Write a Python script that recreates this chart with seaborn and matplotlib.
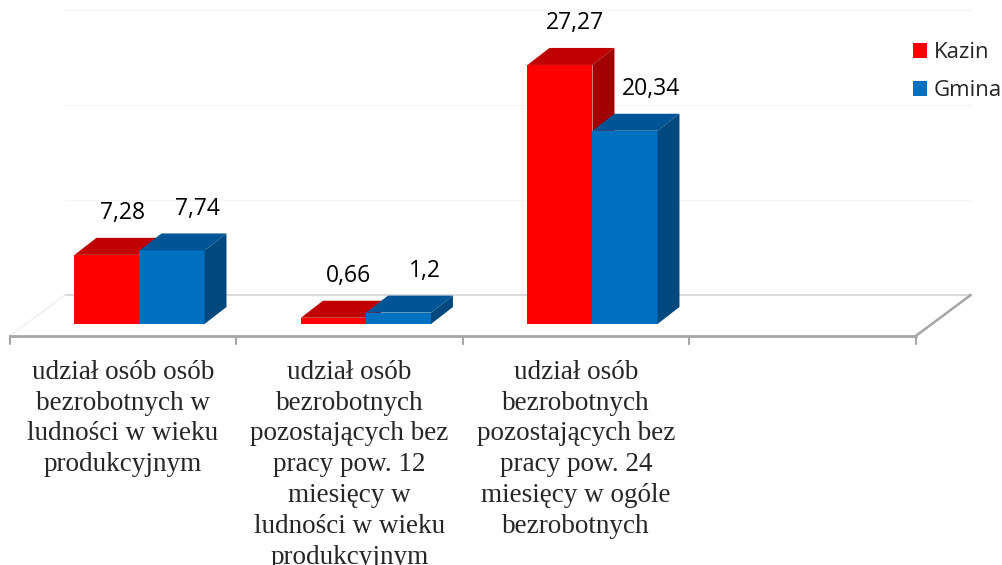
import pandas as pd
import seaborn as sns
import matplotlib.pyplot as plt
from matplotlib.patches import Polygon

# ── data ──
CATEGORIES = [
    "udział osób osób\nbezrobotnych w\nludności w wieku\nprodukcyjnym",
    "udział osób\nbezrobotnych\npozostających bez\npracy pow. 12\nmiesięcy w\nludności w wieku\nprodukcyjnym",
    "udział osób\nbezrobotnych\npozostających bez\npracy pow. 24\nmiesięcy w ogóle\nbezrobotnych",
]
SERIES = ["Kazin", "Gmina"]
KAZIN = [7.28, 0.66, 27.27]
GMINA = [7.74, 1.2, 20.34]

# ── style ──
FRONT = ["#FF0000", "#0070C0"]
TOP   = ["#C00000", "#005596"]
SIDE  = ["#A00000", "#00497E"]

BAR_DX, BAR_DY     = 0.097, 1.79     # bar depth (data units)
FLOOR_DX, FLOOR_DY = 0.243, 4.32     # floor depth
OFF_X = -(FLOOR_DX - BAR_DX) / 2     # floor front relative to bar front
OFF_Y = -(FLOOR_DY - BAR_DY) / 2

df = pd.DataFrame({
    "kategoria": CATEGORIES * 2,
    "seria":     [SERIES[0]] * 3 + [SERIES[1]] * 3,
    "wartosc":   KAZIN + GMINA,
})

sns.set_style("white")
plt.rcParams["font.family"] = ["Open Sans", "DejaVu Sans"]

fig = plt.figure(figsize=(10.03, 5.65), dpi=100)
ax = fig.add_axes([0.02617, 0.35929, 0.90329, 0.63894])

sns.barplot(data=df, x="kategoria", y="wartosc", hue="seria",
            hue_order=SERIES, palette=FRONT, saturation=1,
            width=0.574, gap=0, linewidth=0, ax=ax)

# ── 3D faces on top of seaborn bars ──
for k, cont in enumerate(ax.containers):
    z = 3 + k
    for bar, v in zip(cont, [KAZIN, GMINA][k]):
        x0, w, h = bar.get_x(), bar.get_width(), bar.get_height()
        bar.set_zorder(z)
        ax.add_patch(Polygon([(x0, h), (x0 + w, h), (x0 + w + BAR_DX, h + BAR_DY),
                              (x0 + BAR_DX, h + BAR_DY)], closed=True,
                             fc=TOP[k], ec="none", zorder=z))
        ax.add_patch(Polygon([(x0 + w, 0), (x0 + w + BAR_DX, BAR_DY),
                              (x0 + w + BAR_DX, h + BAR_DY), (x0 + w, h)], closed=True,
                             fc=SIDE[k], ec="none", zorder=z))
        shift = 0.018 if k == 0 else 0.066
        ax.text(x0 + w / 2 + BAR_DX / 2 + shift, h + BAR_DY + 2.6,
                f"{v:g}".replace(".", ","), ha="center", va="center",
                fontsize=16.5, color="black", zorder=10)

# ── floor, walls, ticks ──
xs = ax.get_xticks()
n_slots = len(CATEGORIES) + 1
fx0, fx1 = -0.5 + OFF_X, n_slots - 0.5 + OFF_X
bx0, bx1 = fx0 + FLOOR_DX, fx1 + FLOOR_DX
fy, by = OFF_Y, OFF_Y + FLOOR_DY

for g in (10, 20, 30):
    ax.plot([bx0, bx1], [by + g, by + g], color="#F6F6F6", lw=1, zorder=1, clip_on=False)
ax.plot([bx0, bx1], [by, by], color="#D4D4D4", lw=1.2, zorder=1, clip_on=False)
ax.plot([fx0, bx0], [fy, by], color="#EEEEEE", lw=1, zorder=1, clip_on=False)
ax.plot([fx1, bx1], [fy, by], color="#A6A6A6", lw=1.8, zorder=1, clip_on=False)
ax.plot([fx0, fx1], [fy, fy], color="#A6A6A6", lw=2, zorder=1, clip_on=False)
for i in range(n_slots + 1):
    tx = -0.5 + i + OFF_X
    ax.plot([tx, tx], [fy, fy - 0.8], color="#A6A6A6", lw=1.5, zorder=1, clip_on=False)

for x, name in zip(xs, CATEGORIES):
    ax.text(x + OFF_X, -3.75, name, ha="center", va="top",
            family="Liberation Serif", fontsize=19.5, linespacing=1.31)

ax.set_xlim(-0.5, n_slots - 0.5)
ax.set_ylim(-4, 34)
ax.set_axis_off()

handles, labels = ax.get_legend_handles_labels()
ax.legend(handles, labels, loc="upper left", bbox_to_anchor=(0.910, 0.925),
          bbox_transform=fig.transFigure, frameon=False, fontsize=16,
          handlelength=0.64, handleheight=0.64, handletextpad=0.3,
          borderpad=0, borderaxespad=0, labelspacing=0.75)

fig.savefig("out.png", dpi=100, facecolor="white")
